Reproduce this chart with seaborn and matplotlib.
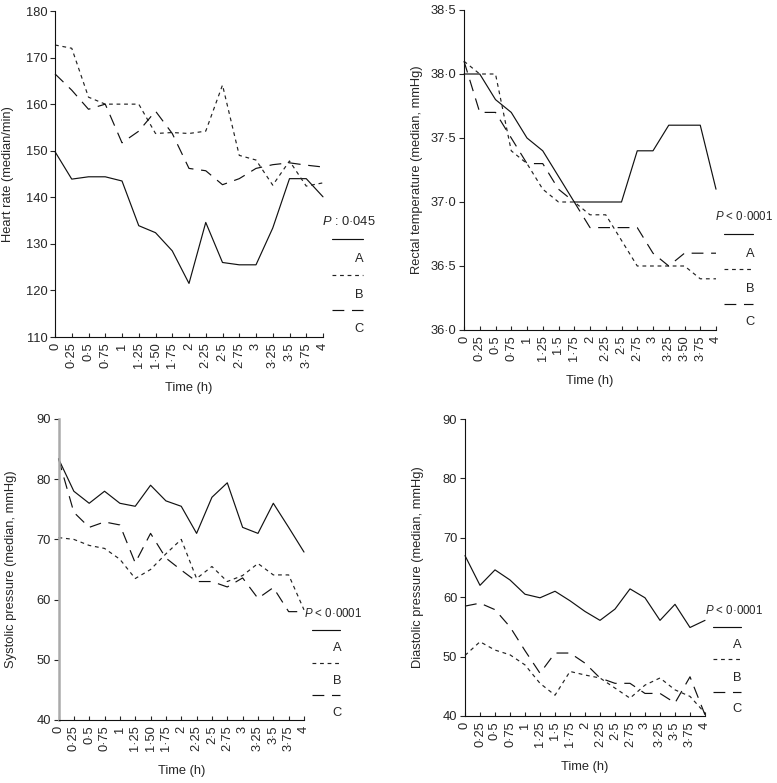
import matplotlib
matplotlib.use("Agg")
import matplotlib.pyplot as plt
import pandas as pd
import seaborn as sns

# ---------------- data ----------------
times = [0, 0.25, 0.5, 0.75, 1, 1.25, 1.5, 1.75, 2, 2.25, 2.5, 2.75, 3, 3.25, 3.5, 3.75, 4]
groups = ["A", "B", "C"]

hr_A = [149.8, 143.9, 144.4, 144.4, 143.5, 133.9, 132.4, 128.5, 121.5, 134.6, 126.0, 125.5, 125.5, 133.4, 144.0, 144.0, 140.1]
hr_B = [172.7, 172.0, 161.5, 160.0, 160.0, 160.0, 153.7, 153.9, 153.7, 154.2, 164.1, 149.0, 148.0, 142.6, 147.8, 142.4, 143.1]
hr_C = [166.5, 163.0, 158.9, 160.0, 151.7, 154.2, 158.5, 153.7, 146.2, 145.7, 142.7, 144.0, 146.2, 147.0, 147.4, 146.9, 146.5]

rt_A = [38.0, 38.0, 37.8, 37.7, 37.5, 37.4, 37.2, 37.0, 37.0, 37.0, 37.0, 37.4, 37.4, 37.6, 37.6, 37.6, 37.1]
rt_B = [38.1, 38.0, 38.0, 37.4, 37.3, 37.1, 37.0, 37.0, 36.9, 36.9, 36.7, 36.5, 36.5, 36.5, 36.5, 36.4, 36.4]
rt_C = [38.1, 37.7, 37.7, 37.5, 37.3, 37.3, 37.1, 37.0, 36.8, 36.8, 36.8, 36.8, 36.6, 36.5, 36.6, 36.6, 36.6]

sp_A = [83.4, 78.0, 76.0, 78.0, 76.0, 75.5, 79.0, 76.4, 75.5, 71.0, 77.0, 79.4, 72.0, 71.0, 76.0, 72.0, 67.9]
sp_B = [70.3, 70.0, 69.0, 68.5, 66.7, 63.5, 65.0, 67.6, 70.0, 63.5, 65.5, 63.0, 64.0, 66.0, 64.1, 64.1, 58.3]
sp_C = [83.4, 74.5, 72.0, 72.9, 72.4, 66.1, 71.0, 66.9, 64.9, 63.0, 63.0, 62.1, 63.6, 60.2, 62.0, 58.0, 58.0]

dp_A = [67.0, 62.0, 64.6, 62.9, 60.5, 59.9, 61.0, 59.4, 57.6, 56.1, 58.0, 61.4, 59.9, 56.1, 58.8, 54.9, 56.1]
dp_B = [50.2, 52.5, 51.1, 50.3, 48.6, 45.5, 43.5, 47.5, 46.9, 46.4, 44.7, 43.0, 45.2, 46.4, 44.4, 43.3, 40.5]
dp_C = [58.5, 59.0, 57.9, 55.0, 51.0, 47.2, 50.6, 50.6, 48.9, 46.4, 45.5, 45.5, 43.8, 43.8, 42.2, 46.6, 40.2]

xt_hr = ["0", "0·25", "0·5", "0·75", "1", "1·25", "1·50", "1·75", "2", "2·25", "2·5", "2·75", "3", "3·25", "3·5", "3·75", "4"]
xt_rt = ["0", "0·25", "0·5", "0·75", "1", "1·25", "1·5", "1·75", "2", "2·25", "2·5", "2·75", "3", "3·25", "3·50", "3·75", "4"]
xt_sp = ["0", "0·25", "0·5", "0·75", "1", "1·25", "1·50", "1·75", "2", "2·25", "2·5", "2·75", "3", "3·25", "3·5", "3·75", "4"]
xt_dp = ["0", "0·25", "0·5", "0·75", "1", "1·25", "1·5", "1·75", "2", "2·25", "2·5", "2·75", "3", "3·25", "3·5", "3·75", "4"]

yt_hr = [110, 120, 130, 140, 150, 160, 170, 180]
yl_hr = ["110", "120", "130", "140", "150", "160", "170", "180"]
yt_rt = [36.0, 36.5, 37.0, 37.5, 38.0, 38.5]
yl_rt = ["36·0", "36·5", "37·0", "37·5", "38·0", "38·5"]
yt_bp = [40, 50, 60, 70, 80, 90]
yl_bp = ["40", "50", "60", "70", "80", "90"]

# ---------------- style ----------------
sns.set_style("ticks")
plt.rcParams["font.family"] = ["Liberation Sans", "DejaVu Sans"]
plt.rcParams["mathtext.fontset"] = "custom"
plt.rcParams["mathtext.it"] = "Liberation Sans:italic"
plt.rcParams["mathtext.rm"] = "Liberation Sans"

FS = 9.3
LW = 0.85
dash_map = {"A": "", "B": (3.2, 3.2), "C": (10, 6.5)}
pal = {"A": "#111111", "B": "#222222", "C": "#111111"}

W, H = 777, 783
fig = plt.figure(figsize=(W / 100, H / 100), dpi=100)


def add_ax(l, t, r, b):
    return fig.add_axes([l / W, 1 - b / H, (r - l) / W, (b - t) / H])


panels = [
    dict(box=(55, 11, 323, 337), A=hr_A, B=hr_B, C=hr_C, xt=xt_hr, yt=yt_hr, yl=yl_hr,
         ylim=(110, 180), ylabel="Heart rate (median/min)", ptxt=r"$P$ : 0·045", pfs=9.3),
    dict(box=(464, 10, 716, 330), A=rt_A, B=rt_B, C=rt_C, xt=xt_rt, yt=yt_rt, yl=yl_rt,
         ylim=(36.0, 38.5), ylabel="Rectal temperature (median, mmHg)", ptxt=r"$P$ < 0·0001", pfs=8.3),
    dict(box=(58.5, 419, 304, 720), A=sp_A, B=sp_B, C=sp_C, xt=xt_sp, yt=yt_bp, yl=yl_bp,
         ylim=(40, 90), ylabel="Systolic pressure (median, mmHg)", ptxt=r"$P$ < 0·0001", pfs=8.3),
    dict(box=(465, 419, 705, 716), A=dp_A, B=dp_B, C=dp_C, xt=xt_dp, yt=yt_bp, yl=yl_bp,
         ylim=(40, 90), ylabel="Diastolic pressure (median, mmHg)", ptxt=r"$P$ < 0·0001", pfs=8.3),
]

for k, p in enumerate(panels):
    l, t, r, b = p["box"]
    ax = add_ax(l, t, r, b)
    wpx, hpx = r - l, b - t
    df = pd.DataFrame({
        "time": times * 3,
        "value": p["A"] + p["B"] + p["C"],
        "group": ["A"] * len(times) + ["B"] * len(times) + ["C"] * len(times),
    })
    sns.lineplot(data=df, x="time", y="value", hue="group", style="group",
                 palette=pal, dashes=dash_map, legend=False, lw=LW, ax=ax,
                 estimator=None, sort=False)
    for ln in ax.lines:
        ln.set_clip_on(False)
    ax.set_xlim(0, 4)
    ax.set_ylim(*p["ylim"])
    ax.set_xticks(times)
    ax.set_xticklabels(p["xt"], rotation=90, fontsize=FS, va="top", ha="center")
    ax.set_yticks(p["yt"])
    ax.set_yticklabels(p["yl"], fontsize=FS)
    ax.tick_params(axis="x", direction="in", length=3, width=0.8, pad=4)
    ax.tick_params(axis="y", direction="out", length=3.5, width=0.8, pad=2)
    for s in ("top", "right"):
        ax.spines[s].set_visible(False)
    for s in ("left", "bottom"):
        ax.spines[s].set_linewidth(0.8)
        ax.spines[s].set_color("#111111")
    if k == 2:
        ax.spines["left"].set_color("#aaaaaa")
        ax.spines["left"].set_linewidth(1.8)
    ax.set_xlabel("Time (h)", fontsize=FS)
    ax.set_ylabel(p["ylabel"], fontsize=FS)
    ax.yaxis.set_label_coords(-41 / wpx, 0.5)
    ax.xaxis.set_label_coords(0.5, -45 / hpx)
    ax.xaxis.label.set_va("top")

    # legend-like annotation
    ax.text(0.998, 0.355, p["ptxt"], transform=ax.transAxes, fontsize=p["pfs"],
            ha="left", va="center", clip_on=False)
    xl0, xl1 = 1.033, 1.148
    for g, yline, ylab in (("A", 0.300, 0.238), ("B", 0.191, 0.129), ("C", 0.082, 0.024)):
        ax.plot([xl0, xl1], [yline, yline], transform=ax.transAxes, color=pal[g],
                lw=LW, clip_on=False,
                linestyle="-" if dash_map[g] == "" else (0, dash_map[g]))
        ax.text(1.152, ylab, g, transform=ax.transAxes, fontsize=FS,
                ha="right", va="center", clip_on=False)

fig.savefig("out.png", dpi=100)
